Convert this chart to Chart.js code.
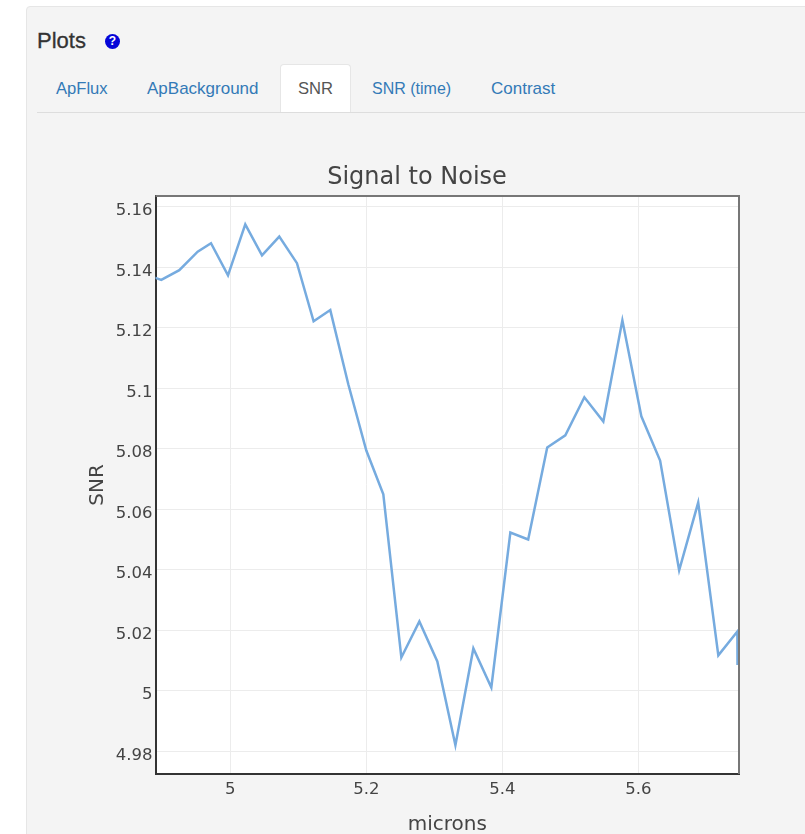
<!DOCTYPE html>
<html>
<head>
<meta charset="utf-8">
<title>Plots</title>
<script src="https://cdn.jsdelivr.net/npm/chart.js@4"></script>
<style>
  html, body { margin: 0; padding: 0; background: #fff; }
  body { width: 805px; height: 834px; overflow: hidden; position: relative; font-family: "Liberation Sans", sans-serif; }
  #panel { position: absolute; left: 26px; top: 6px; width: 800px; height: 860px; background: #f4f4f4; border: 1px solid #e6e6e6; border-radius: 4px; box-sizing: border-box; }
  #heading { position: absolute; left: 37px; top: 29px; font-size: 22px; line-height: 24px; color: #333; -webkit-text-stroke: 0.3px #333; }
  #help { position: absolute; left: 105px; top: 34px; width: 15px; height: 15px; border-radius: 50%; background: #0505d8; color: #fff; font-size: 12px; font-weight: bold; line-height: 15px; text-align: center; }
  #tabline { position: absolute; left: 37px; top: 112px; width: 768px; height: 1px; background: #ddd; }
  .tab { position: absolute; top: 79px; font-size: 16.6px; line-height: 20px; color: #337ab7; white-space: nowrap; }
  #active { position: absolute; left: 280px; top: 64px; width: 71px; height: 49px; background: #fff; border: 1px solid #e6e6e6; border-bottom: none; border-radius: 4px 4px 0 0; box-sizing: border-box; }
  #wrap { position: absolute; left: 29px; top: 150px; width: 776px; height: 684px; }
</style>
</head>
<body>
<div id="panel"></div>
<div id="heading">Plots</div>
<div id="help">?</div>
<div id="active"></div>
<div id="tabline"></div>
<div class="tab" style="left:56px">ApFlux</div>
<div class="tab" style="left:147px;font-size:17px">ApBackground</div>
<div class="tab" style="left:298px;color:#555">SNR</div>
<div class="tab" style="left:372px;font-size:16px">SNR (time)</div>
<div class="tab" style="left:491px;font-size:17px">Contrast</div>
<div id="wrap"><canvas id="myChart"></canvas></div>
<script>
const microns = [4.885, 4.8985, 4.925, 4.952, 4.9716, 4.9966, 5.022, 5.0466, 5.072, 5.098, 5.1225, 5.147, 5.1735, 5.2, 5.225, 5.2515, 5.278, 5.3044, 5.331, 5.3574, 5.3838, 5.4118, 5.438, 5.466, 5.4926, 5.5206, 5.5485, 5.5765, 5.6044, 5.632, 5.66, 5.688, 5.7176, 5.7456, 5.7458];
const snr = [5.1368, 5.1358, 5.139, 5.1451, 5.1479, 5.1373, 5.1541, 5.1439, 5.1501, 5.1413, 5.1221, 5.1258, 5.1013, 5.0794, 5.0649, 5.011, 5.0229, 5.0097, 4.982, 5.014, 5.0011, 5.0523, 5.05, 5.0804, 5.0844, 5.097, 5.089, 5.1224, 5.0907, 5.0761, 5.0398, 5.0622, 5.0117, 5.0196, 5.0085];
const xTicks = [5, 5.2, 5.4, 5.6];
const yTicks = [4.98, 5, 5.02, 5.04, 5.06, 5.08, 5.1, 5.12, 5.14, 5.16];

const textColor = '#444';
const tickFont = { family: '"DejaVu Sans"', size: 16.5 };
const axisTitleFont = { family: '"DejaVu Sans"', size: 20 };

// white plot area, and top/right edges in a lighter, thicker grey than the axes
const plotFrame = {
  id: 'plotFrame',
  beforeDraw(chart) {
    const { ctx, chartArea: a } = chart;
    ctx.save();
    ctx.fillStyle = '#fff';
    ctx.fillRect(a.left, a.top, a.right - a.left, a.bottom - a.top);
    ctx.restore();
  },
  afterDatasetsDraw(chart) {
    const { ctx, chartArea: a } = chart;
    ctx.save();
    ctx.strokeStyle = '#777';
    ctx.lineWidth = 2;
    ctx.beginPath();
    ctx.moveTo(a.left, a.top);
    ctx.lineTo(a.right, a.top);
    ctx.lineTo(a.right, a.bottom);
    ctx.stroke();
    ctx.restore();
  }
};

new Chart(document.getElementById('myChart'), {
  type: 'line',
  data: {
    datasets: [{
      data: microns.map((m, i) => ({ x: m, y: snr[i] })),
      borderColor: '#76abdf',
      borderWidth: 2.5,
      pointRadius: 0,
      tension: 0
    }]
  },
  options: {
    responsive: true,
    maintainAspectRatio: false,
    animation: false,
    layout: { padding: { left: 66, right: 66, top: 0, bottom: 0 } },
    plugins: {
      legend: { display: false },
      tooltip: { enabled: false },
      title: {
        display: true,
        text: 'Signal to Noise',
        color: textColor,
        font: { family: '"DejaVu Sans"', size: 24, weight: 'normal' },
        padding: { top: 13.6, bottom: 3.6 }
      }
    },
    scales: {
      x: {
        type: 'linear',
        min: 4.89,
        max: 5.748,
        afterBuildTicks: s => { s.ticks = xTicks.map(v => ({ value: v })); },
        afterFit: s => { s.height = 60; },
        grid: { color: '#ececec', tickLength: 0 },
        border: { color: '#333', width: 2 },
        ticks: { color: textColor, font: tickFont, padding: 6, maxRotation: 0, callback: v => String(v) },
        title: { display: true, text: 'microns', color: textColor, font: axisTitleFont, padding: { top: 0, bottom: -3 } }
      },
      y: {
        type: 'linear',
        min: 4.9725,
        max: 5.1635,
        afterBuildTicks: s => { s.ticks = yTicks.map(v => ({ value: v })); },
        afterFit: s => { s.width = 60.5; },
        grid: { color: '#ececec', tickLength: 0 },
        border: { color: '#333', width: 2 },
        // blank first line pushes the label a few px below its grid line, as in the original
        ticks: { color: textColor, font: { ...tickFont, lineHeight: 0.5 }, padding: 3, callback: v => ['', String(v)] },
        title: { display: true, text: 'SNR', color: textColor, font: axisTitleFont, padding: { top: -9, bottom: 0 } }
      }
    }
  },
  plugins: [plotFrame]
});
</script>
</body>
</html>
